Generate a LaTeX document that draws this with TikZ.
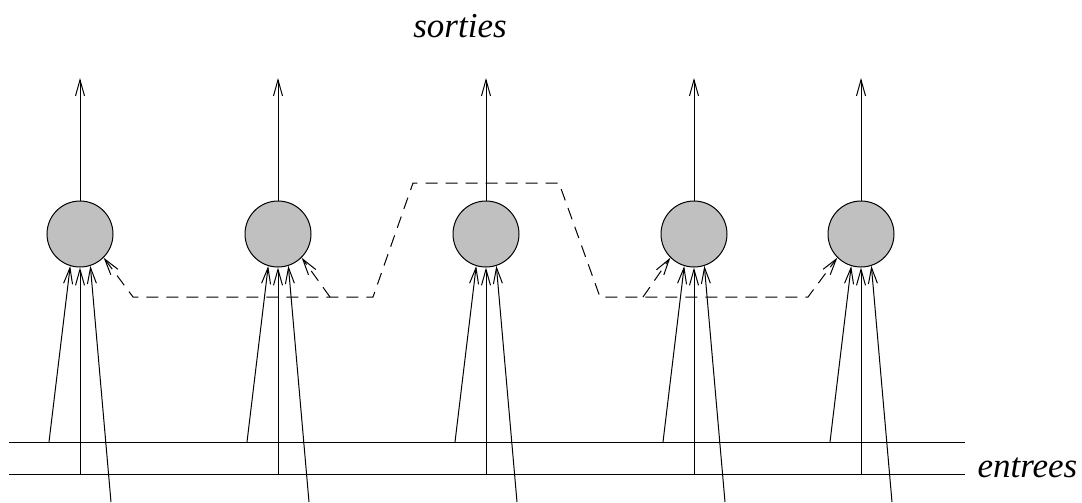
\documentclass[tikz,border=0pt]{standalone}
\usepackage{fontspec}
\setmainfont{Liberation Serif}
\usetikzlibrary{arrows.meta}
\begin{document}
\begin{tikzpicture}[x=0.5pt,y=-0.5pt,line width=0.5pt,
  neuron/.style={circle,draw,fill={rgb,255:red,192;green,192;blue,192},minimum size=33pt,inner sep=0pt},
  arr/.style={-{Straight Barb[length=8pt,width=4.5pt,line width=0.5pt]}},
  barrs/.style={{Straight Barb[length=8pt,width=4.5pt,line width=0.5pt]}-{Straight Barb[length=8pt,width=4.5pt,line width=0.5pt]}},
  dsh/.style={dash pattern=on 6pt off 4pt},
  lbl/.style={font=\itshape\fontsize{17.5}{20}\selectfont,inner sep=0pt}]
\useasboundingbox (0,0) rectangle (1082,503);
% input lines
\coordinate (L1a) at (9,442); \coordinate (L1b) at (965,442);
\coordinate (L2a) at (9,474); \coordinate (L2b) at (965,474);
\draw (L1a) -- (L1b);
\draw (L2a) -- (L2b);
\foreach \i/\x in {1/80,2/278,3/486,4/694,5/861} {
  \node[neuron] (n\i) at (\x,234) {};
  \coordinate (o\i) at (\x,78);
  \draw[arr] (n\i.north) -- (o\i);
  \coordinate (a\i) at (\x-31,442);
  \coordinate (b\i) at (\x,474);
  \coordinate (c\i) at (\x+31,502);
  \draw[arr] (a\i) -- (n\i.-107.6);
  \draw[arr] (b\i) -- (n\i.south);
  \draw[arr] (c\i) -- (n\i.-72.4);
}
% lateral dashed connections
\coordinate (d1) at (133,297);
\coordinate (d2) at (373,297);
\coordinate (d3) at (413,183);
\coordinate (d4) at (559,183);
\coordinate (d5) at (600,297);
\coordinate (d6) at (808,297);
\coordinate (e2) at (330,297);
\coordinate (e4) at (643,297);
\draw[dsh,barrs] (n1.-45) -- (d1) -- (d2) -- (d3) -- (d4) -- (d5) -- (d6) -- (n5.-135);
\draw[dsh,arr] (e2) -- (n2.-45);
\draw[dsh,arr] (e4) -- (n4.-135);
% labels
\node[lbl,anchor=base] (sorties) at (460,38) {sorties};
\node[lbl,anchor=base west] (entrees) at (977,477) {entrees};
\end{tikzpicture}
\end{document}
